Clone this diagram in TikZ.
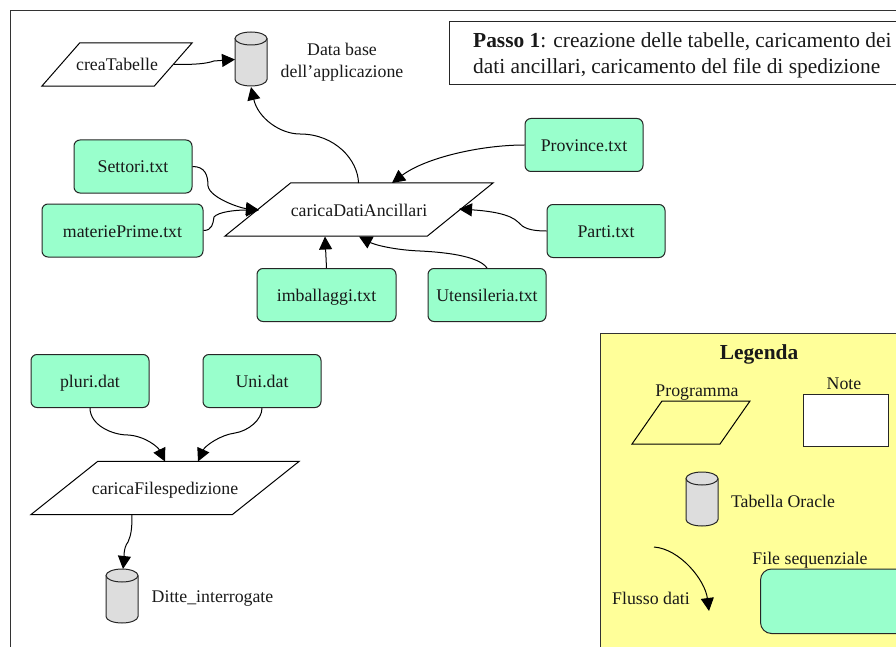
\documentclass[tikz,border=0pt]{standalone}
\usepackage{fontspec}
\setmainfont{Liberation Serif}
\usetikzlibrary{arrows.meta,shapes.geometric,calc}
\definecolor{filegreen}{HTML}{99FFCC}
\definecolor{legendyellow}{HTML}{FFFF99}
\definecolor{cylgray}{HTML}{DDDDDD}
\tikzset{
 txt/.style={font=\fontsize{17.8}{22}\selectfont,inner sep=0pt,align=center,text=black!90},
 filebox/.style={txt,draw=black!85,line width=1pt,fill=filegreen,rounded corners=6pt,minimum height=53pt,anchor=center,text height=13pt,text depth=0pt},
 prog/.style={txt,rectangle,minimum height=53pt,text height=13pt,text depth=0pt},
 progline/.style={draw=black,line width=1pt,fill=white},
 flow/.style={draw=black,line width=1pt,-{Triangle[length=13pt,width=13pt]}},
 cylgeom/.style={draw=black!85,line width=1pt,fill=cylgray},
 notebox/.style={draw=black!85,line width=1pt,fill=white},
}
\newcommand{\dbcyl}[3]{%
 \coordinate (#3) at (#1,#2);
 \draw[cylgeom] (#1-16,#2-20.5) -- (#1-16,#2+20.5) arc[start angle=180,end angle=360,x radius=16,y radius=-6.5] -- (#1+16,#2-20.5);
 \filldraw[cylgeom] (#1,#2-20.5) ellipse[x radius=16,y radius=6.5];
}
\newcommand{\progshape}[2]{%
 \draw[progline] (#1.south west) -- ([xshift=#2pt]#1.north west) -- (#1.north east) -- ([xshift=-#2pt]#1.south east) -- cycle;
}
\begin{document}
\begin{tikzpicture}[x=1pt,y=-1pt]
\useasboundingbox (0,0) rectangle (896,647);
\draw[draw=black!80,line width=1pt] (10,647) -- (10,10.5) -- (896,10.5);
% legend
\path[fill=legendyellow,draw=black!80,line width=1pt] (896,333.5) -- (600,333.5) -- (600,647) -- (896,647);
\node[txt,font=\fontsize{21.4}{24}\selectfont\bfseries] (legt) at (759,354) {Legenda};
\node[txt] (legp) at (697,392.5) {Programma};
\draw[draw=black,line width=1pt] (632,444) -- (662,401) -- (750,401) -- (720,444) -- cycle;
\node[txt] (legn) at (844,384) {Note};
\draw[notebox] (803.5,394) rectangle (888.5,446);
\dbcyl{702}{499}{legc}
\node[txt] (legct) at (783,501) {Tabella Oracle};
\node[txt] (legf) at (810,560.5) {File sequenziale};
\draw[draw=black!85,line width=1pt,fill=filegreen,rounded corners=11pt] (900,569) -- (760.5,569) -- (760.5,633.5) -- (900,633.5);
\node[txt] (legd) at (651,598) {Flusso dati};
\coordinate (lega) at (654,547);
\coordinate (legb) at (709,611);
\draw[flow] (lega) .. controls (680,549) and (705,580) .. (legb);
% note
\node[draw=black!85,line width=1pt,fill=white,minimum width=450pt,minimum height=63pt,inner sep=0pt] (note) at (674.5,53) {};
\node[txt,align=left,anchor=west,font=\fontsize{21.4}{25.5}\selectfont] (notet) at (473,55.5) {\textbf{Passo 1}: creazione delle tabelle, caricamento dei\\dati ancillari, caricamento del file di spedizione};
% top
\node[prog,minimum width=150pt,minimum height=43pt] (crea) at (117,64.5) {};
\progshape{crea}{38}
\node[prog] at (crea.center) {creaTabelle};
\dbcyl{251}{59}{db}
\node[txt,font=\fontsize{17.8}{22}\selectfont] (dbt) at (342,62.5) {Data base\\dell’applicazione};
\node[prog,minimum width=268pt] (car) at (359,209.5) {};
\progshape{car}{66}
\node[prog] at (car.center) {caricaDatiAncillari};
\node[filebox,minimum width=118pt] (sett) at (133,166.5) {Settori.txt};
\node[filebox,minimum width=161pt] (mat) at (122.5,230.5) {materiePrime.txt};
\node[filebox,minimum width=139pt] (imb) at (326.5,295) {imballaggi.txt};
\node[filebox,minimum width=118pt] (ute) at (487,295) {Utensileria.txt};
\node[filebox,minimum width=118pt] (pro) at (584,145) {Province.txt};
\node[filebox,minimum width=118pt] (par) at (606,231) {Parti.txt};
\node[filebox,minimum width=118pt] (plu) at (90,381) {pluri.dat};
\node[filebox,minimum width=118pt] (uni) at (262,381) {Uni.dat};
\node[prog,minimum width=268pt] (cfs) at (165,488) {};
\progshape{cfs}{67}
\node[prog] at (cfs.center) {caricaFilespedizione};
\dbcyl{122}{596}{dit}
\node[txt] (ditt) at (212.5,598.5) {Ditte\_interrogate};
% connectors
\draw[flow] (174,64.5) .. controls (195,64.5) and (205,64) .. (214,61) -- (235,59.5);
\draw[flow] (358.5,183) .. controls (358,160) and (335,134) .. (300,134) .. controls (280,134) and (258,118) .. (251,87);
\draw[flow] (sett.east) .. controls (205,166.5) and (208,175) .. (208,186) .. controls (210,198) and (240,208) .. (259,210);
\draw[flow] (mat.east) .. controls (212,230.5) and (213,224) .. (214,217) .. controls (218,212) and (235,210) .. (259,210);
\draw[flow] (pro.west) .. controls (480,145) and (425,158) .. (392,183);
\draw[flow] (par.west) .. controls (530,231) and (523,228) .. (518,222) .. controls (510,214) and (490,211) .. (459,209);
\draw[flow] (imb.north) -- (325,236.5);
\draw[flow] (487,268) .. controls (478,255) and (440,252) .. (420,251) .. controls (395,250) and (375,245) .. (359,236.5);
\draw[flow] (90,408) .. controls (90,425) and (112,435) .. (128,435) .. controls (145,436) and (158,447) .. (165,461.5);
\draw[flow] (262,408) .. controls (262,420) and (248,431) .. (235,433) .. controls (220,435) and (205,446) .. (198,461.5);
\draw[flow] (132,514.5) .. controls (132,530) and (131,535) .. (128,542) .. controls (123,548) and (124,560) .. (123,569);
\end{tikzpicture}
\end{document}
